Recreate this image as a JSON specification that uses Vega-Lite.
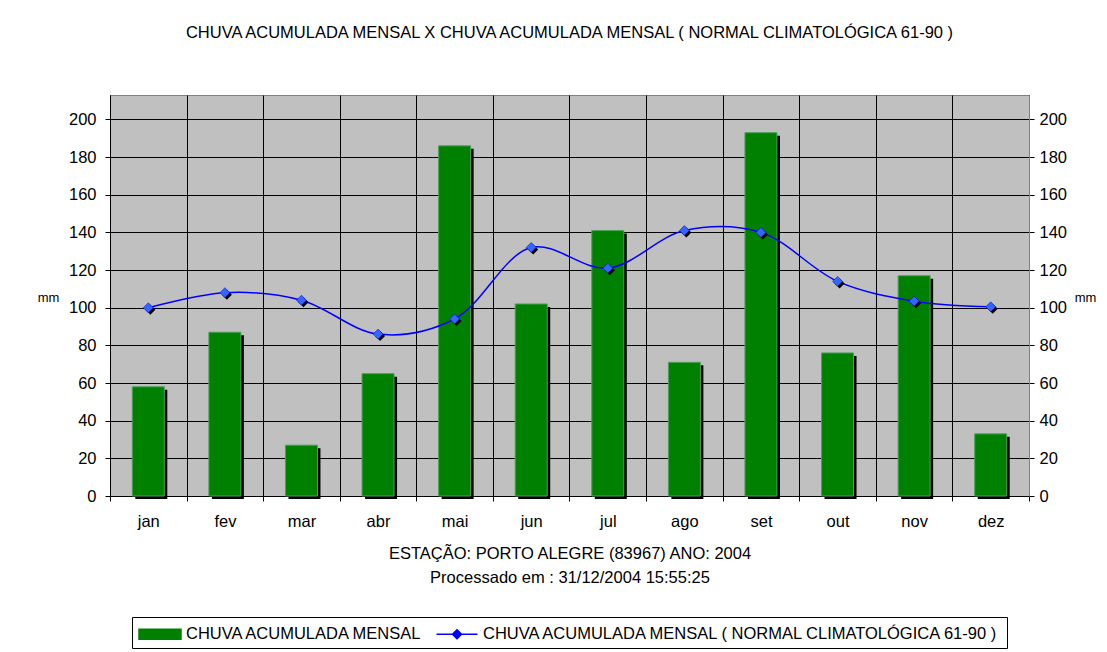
{
  "$schema": "https://vega.github.io/schema/vega-lite/v6.json",
  "width": 919,
  "height": 401,
  "autosize": "none",
  "padding": {"left": 110, "top": 95, "right": 78, "bottom": 156},
  "background": "white",
  "title": {
    "text": "CHUVA ACUMULADA MENSAL X CHUVA ACUMULADA MENSAL ( NORMAL CLIMATOLÓGICA 61-90 )",
    "font": "Liberation Sans",
    "fontSize": 16.5,
    "fontWeight": "normal",
    "color": "black",
    "offset": 54,
    "anchor": "middle"
  },
  "config": {
    "view": {"fill": "#C0C0C0", "stroke": "#808080"},
    "font": "Liberation Sans"
  },
  "data": {
    "values": [
      {"mes": "jan", "chuva": 58, "normal": 100},
      {"mes": "fev", "chuva": 87, "normal": 108},
      {"mes": "mar", "chuva": 27, "normal": 104},
      {"mes": "abr", "chuva": 65, "normal": 86},
      {"mes": "mai", "chuva": 186, "normal": 94},
      {"mes": "jun", "chuva": 102, "normal": 132},
      {"mes": "jul", "chuva": 141, "normal": 121},
      {"mes": "ago", "chuva": 71, "normal": 141},
      {"mes": "set", "chuva": 193, "normal": 140},
      {"mes": "out", "chuva": 76, "normal": 114},
      {"mes": "nov", "chuva": 117, "normal": 103.5},
      {"mes": "dez", "chuva": 33, "normal": 100.5}
    ]
  },
  "encoding": {
    "x": {
      "field": "mes",
      "type": "nominal",
      "sort": null,
      "scale": {"paddingInner": 0, "paddingOuter": 0},
      "axis": {
        "title": ["ESTAÇÃO: PORTO ALEGRE (83967) ANO: 2004", "Processado em : 31/12/2004 15:55:25"],
        "titleFont": "Liberation Sans",
        "titleFontSize": 16.5,
        "titleFontWeight": "normal",
        "titleColor": "black",
        "titleLineHeight": 24,
        "titlePadding": 16,
        "labelAngle": 0,
        "labelFont": "Liberation Sans",
        "labelFontSize": 16.5,
        "labelColor": "black",
        "labelPadding": 12,
        "tickSize": 5,
        "tickColor": "black",
        "domainColor": "black",
        "grid": true,
        "gridColor": "black",
        "gridOpacity": 1,
        "gridWidth": 1,
        "tickBand": "extent"
      }
    }
  },
  "layer": [
    {
      "mark": {"type": "bar", "color": "black", "width": 32, "xOffset": 3, "yOffset": 3},
      "encoding": {
        "y": {
          "field": "chuva",
          "type": "quantitative",
          "scale": {"domain": [0, 213], "nice": false, "zero": true},
          "axis": {
            "orient": "left",
            "values": [0, 20, 40, 60, 80, 100, 120, 140, 160, 180, 200],
            "title": "mm",
            "titleAngle": 0,
            "titleAlign": "center",
            "titleBaseline": "middle",
            "titleX": -62,
            "titleY": 202,
            "titleFont": "Liberation Sans",
            "titleFontSize": 13,
            "titleFontWeight": "normal",
            "titleColor": "black",
            "labelFont": "Liberation Sans",
            "labelFontSize": 16.5,
            "labelColor": "black",
            "labelPadding": 9,
            "tickSize": 5,
            "tickColor": "black",
            "domainColor": "black",
            "grid": true,
            "gridColor": "black",
            "gridOpacity": 1,
            "gridWidth": 1
          }
        }
      }
    },
    {
      "mark": {"type": "bar", "width": 32, "stroke": "#4CA05A", "strokeWidth": 1},
      "encoding": {
        "y": {"field": "chuva", "type": "quantitative", "axis": null},
        "color": {
          "datum": "CHUVA ACUMULADA MENSAL",
          "type": "nominal",
          "scale": {
            "domain": ["CHUVA ACUMULADA MENSAL", "CHUVA ACUMULADA MENSAL ( NORMAL CLIMATOLÓGICA 61-90 )"],
            "range": ["#008000", "#0000FF"]
          },
          "legend": {
            "orient": "none",
            "legendX": 22,
            "legendY": 522,
            "direction": "horizontal",
            "title": null,
            "labelFont": "Liberation Sans",
            "labelFontSize": 16.5,
            "labelColor": "black",
            "labelLimit": 800,
            "labelOffset": 14,
            "symbolOffset": 11,
            "strokeColor": "black",
            "fillColor": "white",
            "padding": 5,
            "columnPadding": 9,
            "symbolSize": 484,
            "symbolStrokeWidth": 1.5,
            "symbolOpacity": 1,
            "symbolType": {"expr": "datum.value === 'CHUVA ACUMULADA MENSAL' ? 'M-1.909,-0.4545H1.909V0.4545H-1.909Z' : 'M-1.864,0H1.864M0,-0.41L0.41,0L0,0.41L-0.41,0Z'"}
          }
        }
      }
    },
    {
      "mark": {"type": "line", "interpolate": "catmull-rom", "strokeWidth": 1.5},
      "encoding": {
        "y": {
          "field": "normal",
          "type": "quantitative",
          "axis": {
            "orient": "right",
            "values": [0, 20, 40, 60, 80, 100, 120, 140, 160, 180, 200],
            "title": "mm",
            "titleAngle": 0,
            "titleAlign": "center",
            "titleBaseline": "middle",
            "titleX": 56,
            "titleY": 202,
            "titleFont": "Liberation Sans",
            "titleFontSize": 13,
            "titleFontWeight": "normal",
            "titleColor": "black",
            "labelFont": "Liberation Sans",
            "labelFontSize": 16.5,
            "labelColor": "black",
            "labelPadding": 5,
            "tickSize": 5,
            "tickColor": "black",
            "domainColor": "#808080",
            "grid": false
          }
        },
        "color": {"datum": "CHUVA ACUMULADA MENSAL ( NORMAL CLIMATOLÓGICA 61-90 )", "type": "nominal"}
      }
    },
    {
      "mark": {"type": "point", "shape": "diamond", "filled": true, "color": "black", "size": 100, "xOffset": 2, "yOffset": 2, "opacity": 1},
      "encoding": {"y": {"field": "normal", "type": "quantitative", "axis": null}}
    },
    {
      "mark": {"type": "point", "shape": "diamond", "filled": true, "size": 100, "fill": "#3366FF", "stroke": "#0000CC", "strokeWidth": 0.5, "opacity": 1},
      "encoding": {"y": {"field": "normal", "type": "quantitative", "axis": null}}
    }
  ],
  "resolve": {"axis": {"y": "independent"}}
}
